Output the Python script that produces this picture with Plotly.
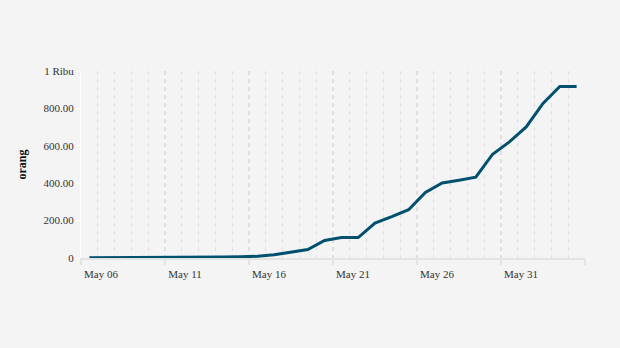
import plotly.graph_objects as go

# Daily cumulative count (orang)
dates = [
    "2020-05-06", "2020-05-07", "2020-05-08", "2020-05-09", "2020-05-10",
    "2020-05-11", "2020-05-12", "2020-05-13", "2020-05-14", "2020-05-15",
    "2020-05-16", "2020-05-17", "2020-05-18", "2020-05-19", "2020-05-20",
    "2020-05-21", "2020-05-22", "2020-05-23", "2020-05-24", "2020-05-25",
    "2020-05-26", "2020-05-27", "2020-05-28", "2020-05-29", "2020-05-30",
    "2020-05-31", "2020-06-01", "2020-06-02", "2020-06-03", "2020-06-04",
]
values = [
    1, 1, 1, 2, 2, 3, 3, 4, 5, 7,
    9, 17, 29, 45, 94, 109, 109, 187, 221, 258,
    350, 401, 416, 432, 555, 621, 701, 827, 917, 917,
]

# Axis labels
x_tick_dates = ["2020-05-06", "2020-05-11", "2020-05-16", "2020-05-21",
                "2020-05-26", "2020-05-31", "2020-06-05"]
x_tick_text = ["May 06", "May 11", "May 16", "May 21", "May 26", "May 31", ""]
y_tick_vals = [0, 200, 400, 600, 800, 1000]
y_tick_text = ["0", "200.00", "400.00", "600.00", "800.00", "1 Ribu"]

BG = "#f4f4f4"
FONT = "Liberation Serif"

# each day's point sits in the middle of its day band
x_mid = [d + " 12:00" for d in dates]

fig = go.Figure(
    go.Scatter(
        x=x_mid,
        y=values,
        mode="lines",
        line=dict(color="#00506e", width=3),
        hoverinfo="x+y",
    )
)

fig.update_layout(
    width=620,
    height=348,
    margin=dict(l=81, r=35, t=71, b=90),
    paper_bgcolor=BG,
    plot_bgcolor=BG,
    showlegend=False,
    font=dict(family=FONT, size=11, color="#333333"),
)

fig.update_xaxes(
    type="date",
    range=["2020-05-06", "2020-06-05"],
    tickmode="array",
    tickvals=x_tick_dates,
    ticktext=x_tick_text,
    ticks="outside",
    ticklen=5,
    tickwidth=2,
    tickcolor="#e3e3e3",
    ticklabelshift=20,
    showline=True,
    linecolor="#e3e3e3",
    linewidth=2,
    showgrid=True,
    gridcolor="#dedede",
    gridwidth=2,
    griddash="4px,4px",
    zeroline=False,
    minor=dict(
        tick0="2020-05-06",
        dtick=86400000,
        showgrid=True,
        gridcolor="#e2e2e2",
        gridwidth=1,
        griddash="4px,4px",
        ticks="",
    ),
    tickfont=dict(family=FONT, size=11, color="#333333"),
)

fig.update_yaxes(
    range=[0, 1000],
    tickmode="array",
    tickvals=y_tick_vals,
    ticktext=y_tick_text,
    ticks="outside",
    ticklen=4,
    tickcolor="#ffffff",
    showline=True,
    linecolor="#ffffff",
    linewidth=1,
    showgrid=False,
    zeroline=False,
    title=dict(text="<b>orang</b>", font=dict(family=FONT, size=12, color="#111111"), standoff=14),
    tickfont=dict(family=FONT, size=11, color="#333333"),
)

fig.write_html("out.html")
